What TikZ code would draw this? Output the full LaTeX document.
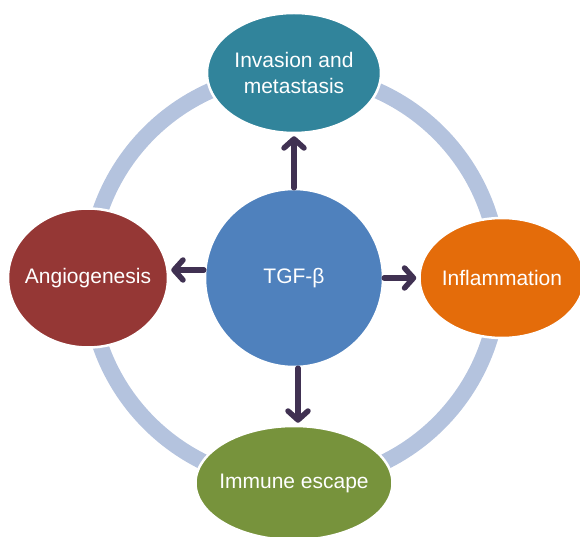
\documentclass[tikz,border=0pt]{standalone}
\usepackage{fontspec}
\setmainfont{Liberation Sans}
\usepackage{tikz}
\usetikzlibrary{positioning, shapes, arrows.meta}
\definecolor{ringblue}{HTML}{B4C3DE}
\definecolor{tealc}{HTML}{31849B}
\definecolor{redc}{HTML}{953735}
\definecolor{orangec}{HTML}{E46C0A}
\definecolor{greenc}{HTML}{77933C}
\definecolor{bluec}{HTML}{4F81BD}
\definecolor{arrowc}{HTML}{403152}
\begin{document}
\begin{tikzpicture}[x=1pt, y=1pt,
  blob/.style={ellipse, draw=white, line width=2.5pt, inner xsep=-20pt, inner ysep=-10pt,
    text=white, align=center, font=\fontsize{21}{26}\selectfont},
  arr/.style={draw=arrowc, line width=5.5pt, line cap=round, line join=round,
    -{Straight Barb[length=9pt, width=20pt, line cap=round, line join=round]}, shorten >=2pt}]
\useasboundingbox (-294,-259) rectangle (286,278);
\draw [ringblue, line width=16pt] (0,0) circle (205);
\node (tgf) [blob, circle, fill=bluec, inner sep=0pt, minimum size=178pt] {TGF-β};
\node (inv) [blob, fill=tealc, minimum width=174pt, minimum height=120pt] at (0,205) {Invasion and\\metastasis};
\node (angio) [blob, fill=redc, minimum width=160pt, minimum height=139pt] at (-206,0) {Angiogenesis};
\node (infl) [blob, fill=orangec, minimum width=165pt, minimum height=120pt] at (208,0) {Inflammation};
\node (imm) [blob, fill=greenc, minimum width=197pt, minimum height=114pt] at (0,-205) {Immune escape};
\draw [arr] (tgf) -- (inv);
\draw [arr] ([yshift=8pt]tgf.west) -- ([yshift=8pt]angio.east);
\draw [arr] (tgf) -- (infl);
\draw [arr] ([xshift=4pt]tgf.south) -- ([xshift=4pt]imm.north);
\end{tikzpicture}
\end{document}
